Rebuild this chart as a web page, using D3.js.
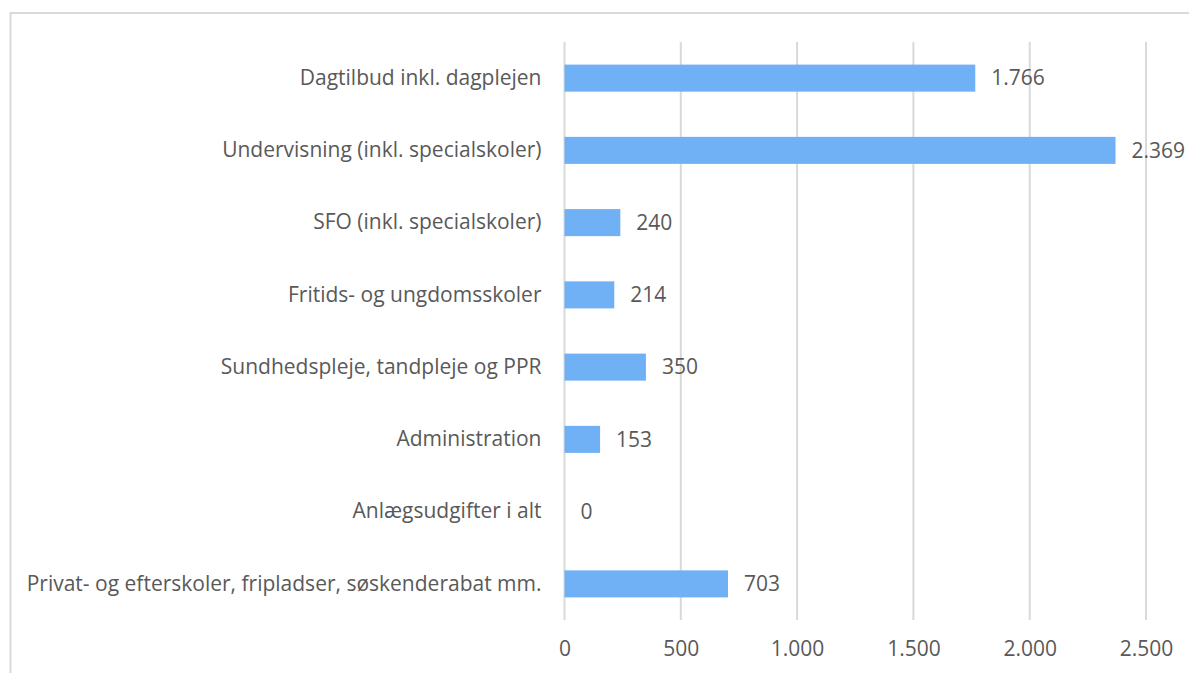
<!DOCTYPE html>
<html>
<head>
<meta charset="utf-8">
<script src="https://cdn.jsdelivr.net/npm/d3@7"></script>
<style>
  body { margin: 0; background: #fff; }
  text { font-family: "Open Sans", sans-serif; fill: #595959; }
</style>
</head>
<body>
<div id="chart"></div>
<script>
var width = 1189,
    height = 673;

var categories = [
  "Dagtilbud inkl. dagplejen",
  "Undervisning (inkl. specialskoler)",
  "SFO (inkl. specialskoler)",
  "Fritids- og ungdomsskoler",
  "Sundhedspleje, tandpleje og PPR",
  "Administration",
  "Anlægsudgifter i alt",
  "Privat- og efterskoler, fripladser, søskenderabat mm."
];
var values = [1766, 2369, 240, 214, 350, 153, 0, 703];
var tickValues = [0, 500, 1000, 1500, 2000, 2500];

var locale = d3.formatLocale({ decimal: ",", thousands: ".", grouping: [3], currency: ["", " kr."] });
var fmt = locale.format(",d");

var svg = d3.select("#chart").append("svg")
    .attr("width", width)
    .attr("height", height);

// chart frame
svg.append("rect")
    .attr("x", 10.5)
    .attr("y", 13)
    .attr("width", 1200)
    .attr("height", 700)
    .attr("fill", "none")
    .attr("stroke", "#d9d9d9")
    .attr("stroke-width", 2);

var x = d3.scaleLinear()
    .domain([0, 2500])
    .range([564.5, 1146]);

var y = d3.scaleBand()
    .domain(categories)
    .range([42, 620])
    .paddingInner(0.626)
    .paddingOuter(0.313);

// gridlines
svg.append("g")
    .selectAll("line")
    .data(tickValues)
    .enter().append("line")
    .attr("x1", function (d) { return x(d); })
    .attr("x2", function (d) { return x(d); })
    .attr("y1", 42)
    .attr("y2", 620)
    .attr("stroke", "#d9d9d9")
    .attr("stroke-width", 2);

// x axis labels
var xAxis = svg.append("g")
    .attr("transform", "translate(0,620)")
    .call(d3.axisBottom(x).tickValues(tickValues).tickFormat(fmt).tickSize(0).tickPadding(21));
xAxis.select(".domain").remove();
xAxis.selectAll("text")
    .attr("font-size", "21px")
    .attr("font-family", "Open Sans, sans-serif")
    .attr("fill", "#595959");

// y axis labels
var yAxis = svg.append("g")
    .attr("transform", "translate(564.5,0)")
    .call(d3.axisLeft(y).tickSize(0).tickPadding(23));
yAxis.select(".domain").remove();
yAxis.selectAll("text")
    .attr("font-size", "21px")
    .attr("font-family", "Open Sans, sans-serif")
    .attr("fill", "#595959");

// bars
svg.append("g")
    .selectAll("rect")
    .data(values)
    .enter().append("rect")
    .attr("x", x(0))
    .attr("y", function (d, i) { return y(categories[i]); })
    .attr("width", function (d) { return x(d) - x(0); })
    .attr("height", y.bandwidth())
    .attr("fill", "#70b0f5");

// value labels
svg.append("g")
    .selectAll("text")
    .data(values)
    .enter().append("text")
    .attr("x", function (d) { return x(d) + 16; })
    .attr("y", function (d, i) { return y(categories[i]) + y.bandwidth() / 2; })
    .attr("dy", "0.35em")
    .attr("font-size", "21px")
    .attr("fill", "#404040")
    .text(function (d) { return fmt(d); });
</script>
</body>
</html>
